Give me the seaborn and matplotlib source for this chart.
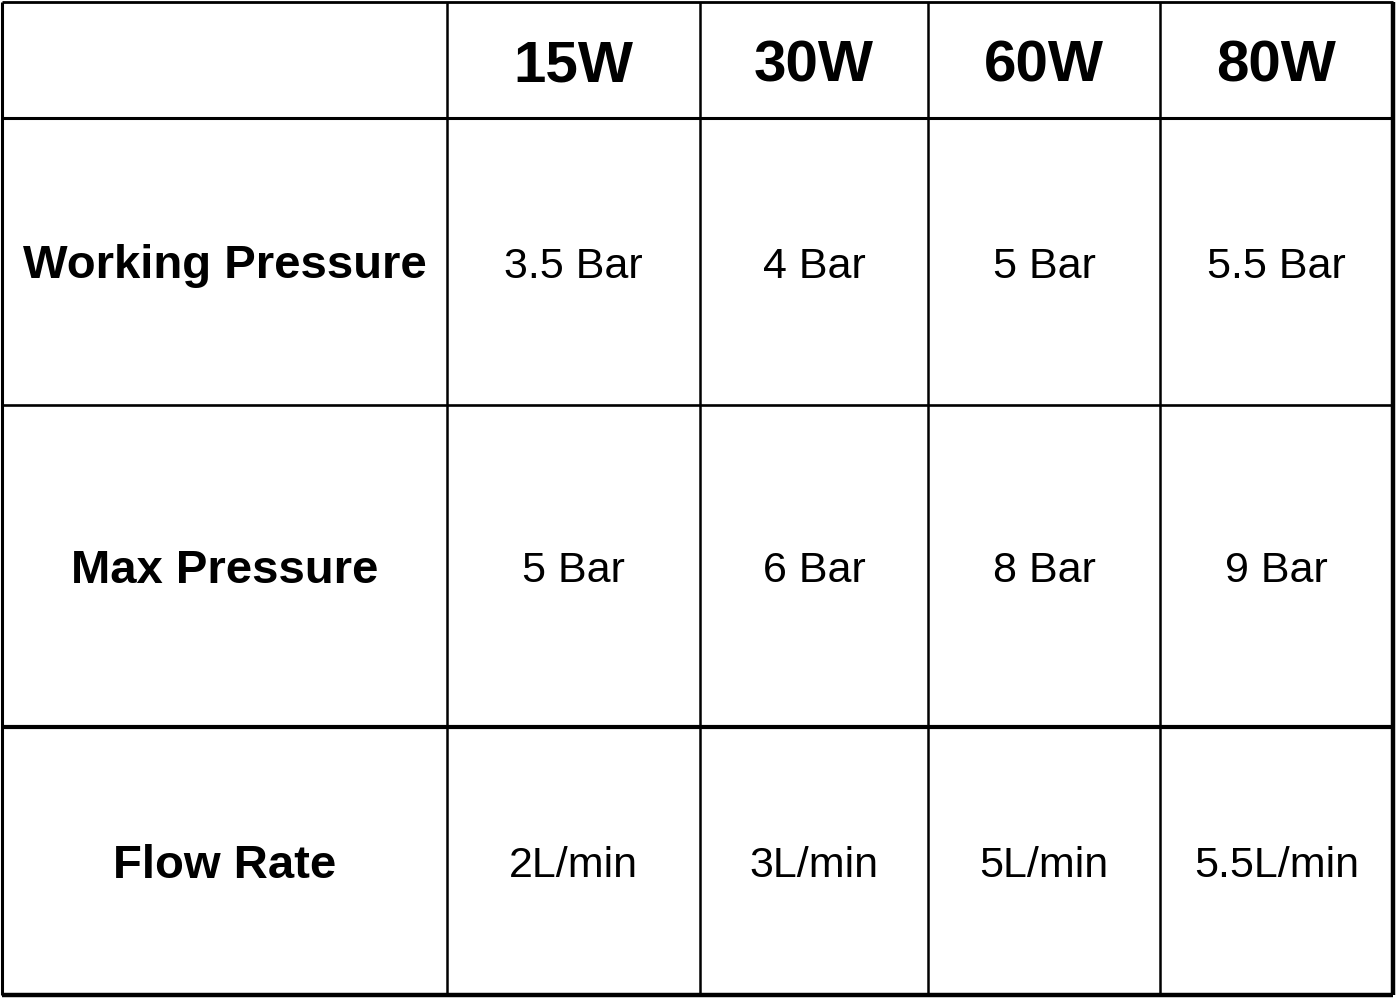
import matplotlib
matplotlib.use("Agg")
import matplotlib.pyplot as plt
import seaborn as sns

# table content
powers = ["15W", "30W", "60W", "80W"]
specs = ["Working Pressure", "Max Pressure", "Flow Rate"]
working_pressure = ["3.5 Bar", "4 Bar", "5 Bar", "5.5 Bar"]
max_pressure = ["5 Bar", "6 Bar", "8 Bar", "9 Bar"]
flow_rate = ["2L/min", "3L/min", "5L/min", "5.5L/min"]

# grid layout in pixels
col_edges = [2, 447, 700, 928, 1160, 1393]
row_edges = [2, 118, 405, 727, 995]
row_lw = [2.0, 2.2, 1.9, 3.0, 3.2]
col_lw = [2.2, 1.8, 1.8, 1.8, 1.8, 3.2]

sns.set_theme(style="white")
plt.rcParams['font.family'] = ['Liberation Sans', 'DejaVu Sans']

fig = plt.figure(figsize=(13.96, 10), dpi=100)
ax = fig.add_axes([0, 0, 1, 1])
ax.set_xlim(0, 1396)
ax.set_ylim(1000, 0)
ax.axis('off')

for y, lw in zip(row_edges, row_lw):
    ax.hlines(y, col_edges[0], col_edges[-1], color='black', lw=lw)
for x, lw in zip(col_edges, col_lw):
    ax.vlines(x, row_edges[0], row_edges[-1], color='black', lw=lw)

def cx(i):
    return (col_edges[i] + col_edges[i + 1]) / 2

def cy(j):
    return (row_edges[j] + row_edges[j + 1]) / 2 + 5

# header
for i, p in enumerate(powers):
    ax.text(cx(i + 1), cy(0) + 2, p, ha='center', va='center',
            fontsize=42, fontweight='bold', color='black')

rows = [working_pressure, max_pressure, flow_rate]
for j, (name, vals) in enumerate(zip(specs, rows)):
    ax.text(cx(0), cy(j + 1), name, ha='center', va='center',
            fontsize=34, fontweight='bold', color='black')
    for i, v in enumerate(vals):
        ax.text(cx(i + 1), cy(j + 1), v, ha='center', va='center',
                fontsize=31, color='black')

fig.savefig('out.png', dpi=100, facecolor='white')
